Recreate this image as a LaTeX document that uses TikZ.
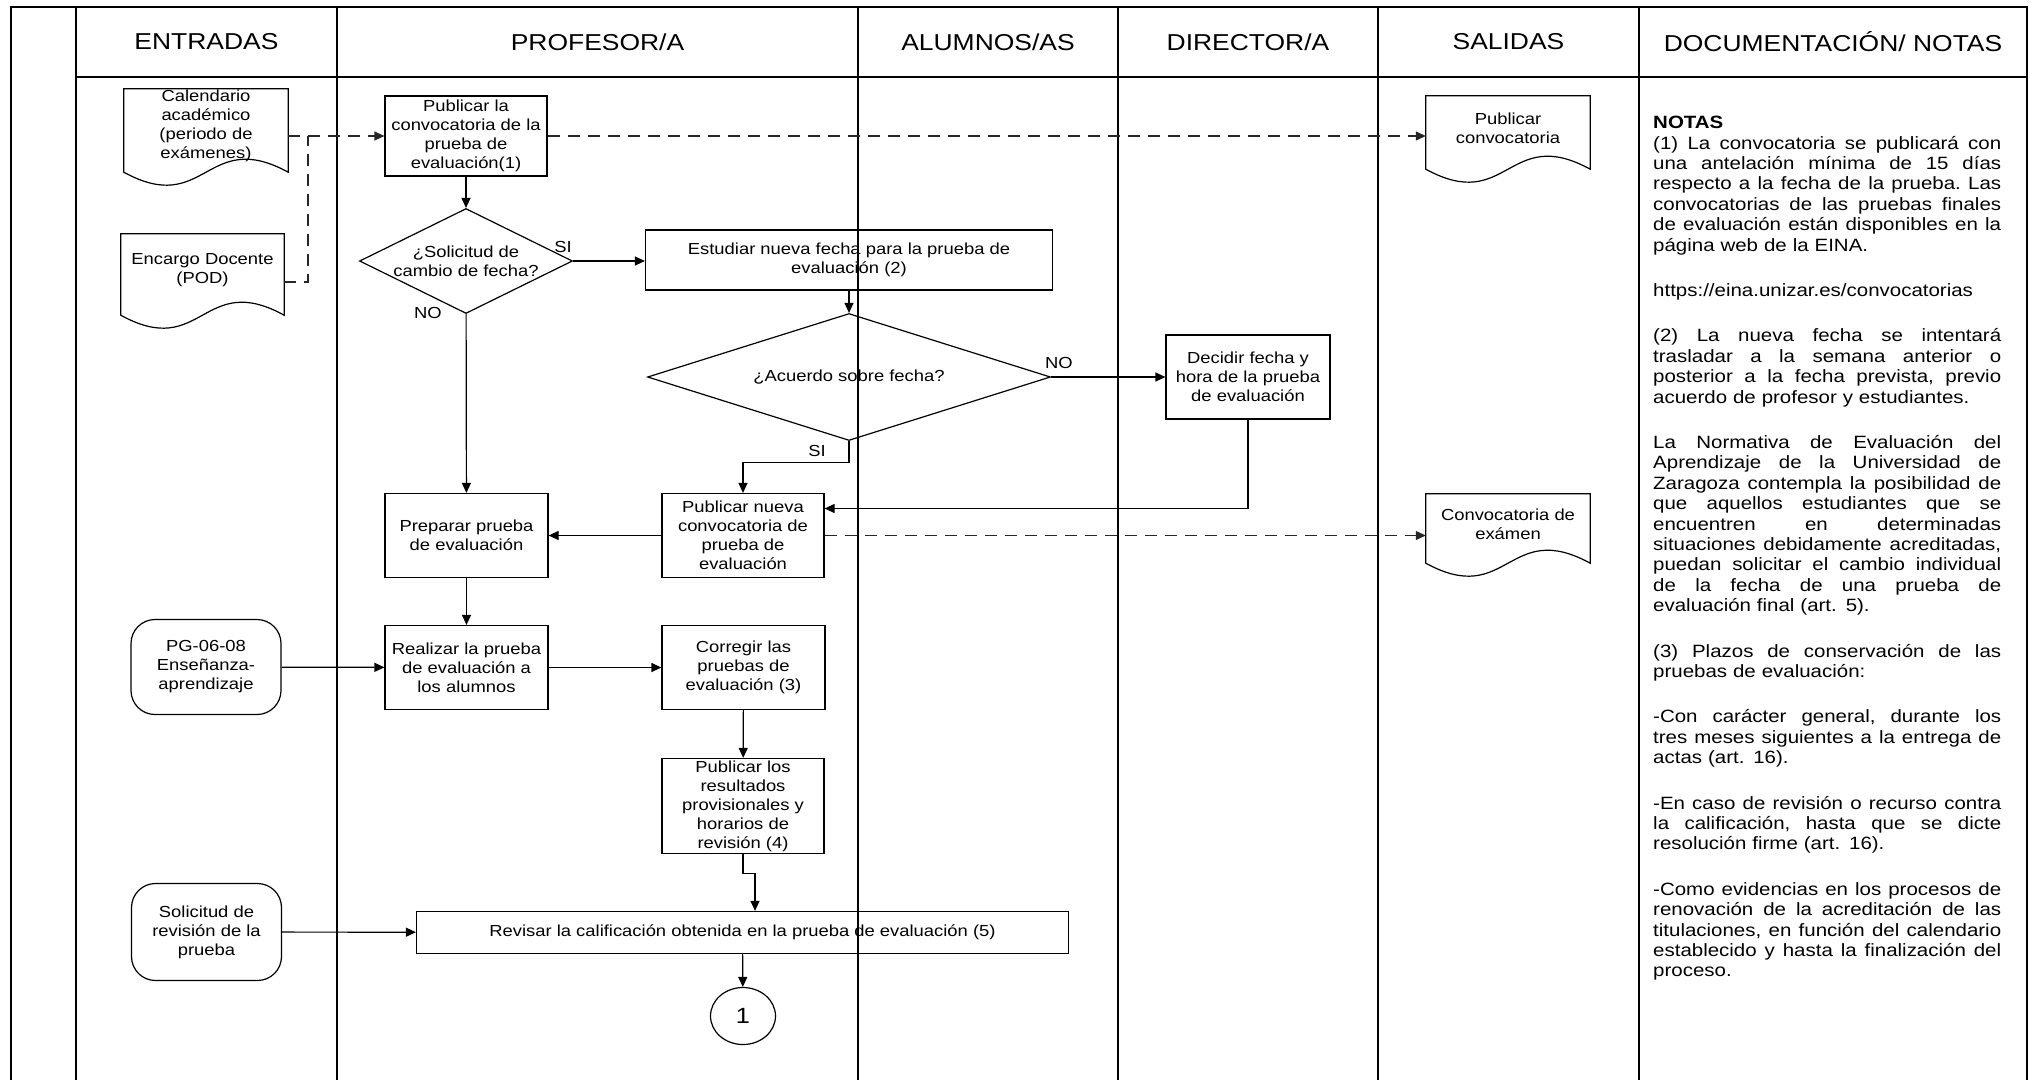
\documentclass[tikz,border=0pt]{standalone}
\usepackage{fontspec}
\setmainfont{Liberation Sans}[FakeStretch=1.15]
\usepackage{tikz}
\usetikzlibrary{arrows.meta,positioning,calc,shapes.geometric}
\newlength\notew
\setlength\notew{348pt}
\newcommand{\jline}[1]{\leavevmode\hbox to\notew{\frenchspacing\spaceskip=\fontdimen2\font plus 1fil\relax #1}}
\newcommand{\docoutline}[1]{%
  \draw[docline] (#1.north west) -- (#1.north east) -- ([yshift=-9pt]#1.south east)
    .. controls ([yshift=36pt]#1.south) and ([yshift=-54pt]#1.south) .. ([yshift=-9pt]#1.south west) -- cycle;}
\tikzset{
  lane/.style={line width=1.8pt},
  head/.style={font=\fontsize{23}{27}\selectfont,inner sep=0pt},
  box/.style={draw,line width=1.2pt,align=center,font=\fontsize{16}{19}\selectfont,inner xsep=2pt,inner ysep=1pt},
  decision/.style={diamond,draw,line width=1.2pt,align=center,font=\fontsize{16}{19}\selectfont,inner sep=0pt},
  term/.style={draw,line width=1.2pt,rounded corners=24pt,align=center,font=\fontsize{16}{19}\selectfont,inner sep=1pt},
  doc/.style={align=center,font=\fontsize{16}{19}\selectfont,inner xsep=2pt,inner ysep=0pt},
  docline/.style={line width=1.2pt},
  connector/.style={ellipse,draw,line width=1.2pt,font=\fontsize{22}{26}\selectfont,inner sep=0pt},
  lbl/.style={font=\fontsize{16}{19}\selectfont,inner sep=0pt},
  notes/.style={text width=348pt,align=left,inner sep=0pt,font=\fontsize{17.8}{20.4}\selectfont},
  arr/.style={-{Triangle[length=10pt,width=9pt]},line width=1.2pt},
  dasharr/.style={-{Triangle[length=10pt,width=9pt]},line width=1.2pt,draw=black!85,dash pattern=on 12pt off 8pt},
  dashline/.style={line width=1.2pt,draw=black!85,dash pattern=on 12pt off 8pt}
}

\begin{document}
\begin{tikzpicture}[x=1pt,y=-1pt]
  \useasboundingbox (0,0) rectangle (2031,1080);
  % swimlanes
  \draw[lane] (11,1080) -- (11,7) -- (2027,7) -- (2027,1080);
  \draw[lane] (76,77) -- (2027,77);
  \draw[lane] (76,7) -- (76,1080);
  \draw[lane] (337,7) -- (337,1080);
  \draw[lane] (858,7) -- (858,1080);
  \draw[lane] (1118,7) -- (1118,1080);
  \draw[lane] (1378,7) -- (1378,1080);
  \draw[lane] (1639,7) -- (1639,1080);
  \node[head] (hin) at (206.5,42) {ENTRADAS};
  \node[head] (hprof) at (597.5,42) {PROFESOR/A};
  \node[head] (halu) at (988,42) {ALUMNOS/AS};
  \node[head] (hdir) at (1248,42) {DIRECTOR/A};
  \node[head] (hout) at (1508.5,42) {SALIDAS};
  \node[head] (hdoc) at (1833,42) {DOCUMENTACIÓN/ NOTAS};

  % entradas
  \node[doc,minimum width=164pt,minimum height=74pt] (cal) at (206,126) {Calendario\\académico\\(periodo de\\exámenes)};
  \docoutline{cal}
  \node[doc,minimum width=163pt,minimum height=72pt] (pod) at (202.5,270) {Encargo Docente\\(POD)};
  \docoutline{pod}
  \node[term,minimum width=150pt,minimum height=95pt] (pg) at (206,667) {PG-06-08\\Enseñanza-\\aprendizaje};
  \node[term,minimum width=150pt,minimum height=97pt] (sol) at (206.5,932) {Solicitud de\\revisión de la\\prueba};

  % profesor
  \node[box,minimum width=162pt,minimum height=80pt] (pub1) at (466,136) {Publicar la\\convocatoria de la\\prueba de\\evaluación(1)};
  \node[decision,minimum width=213pt,minimum height=105pt,aspect=2.03] (dec1) at (466,261) {¿Solicitud de\\cambio de fecha?};
  \node[box,minimum width=407pt,minimum height=60pt] (est) at (849,260) {Estudiar nueva fecha para la prueba de\\evaluación (2)};
  \node[decision,minimum width=403pt,minimum height=127pt,aspect=3.2] (dec2) at (849,377) {¿Acuerdo sobre fecha?};
  \node[box,minimum width=163pt,minimum height=84pt] (prep) at (466.5,535.5) {Preparar prueba\\de evaluación};
  \node[box,minimum width=162pt,minimum height=84pt] (pub2) at (743,535.5) {Publicar nueva\\convocatoria de\\prueba de\\evaluación};
  \node[box,minimum width=163pt,minimum height=84pt] (real) at (466.5,667.5) {Realizar la prueba\\de evaluación a\\los alumnos};
  \node[box,minimum width=163pt,minimum height=84pt] (corr) at (743.5,667.5) {Corregir las\\pruebas de\\evaluación (3)};
  \node[box,minimum width=162pt,minimum height=95pt] (res) at (743,806) {Publicar los\\resultados\\provisionales y\\horarios de\\revisión (4)};
  \node[box,minimum width=652pt,minimum height=42pt] (rev) at (742.5,932.5) {Revisar la calificación obtenida en la prueba de evaluación (5)};
  \node[connector,minimum width=65pt,minimum height=57pt] (conn) at (743,1016) {1};

  % director
  \node[box,minimum width=164pt,minimum height=84pt] (dec) at (1248,377) {Decidir fecha y\\hora de la prueba\\de evaluación};

  % salidas
  \node[doc,minimum width=164pt,minimum height=64pt] (pubc) at (1508,128) {Publicar\\convocatoria};
  \docoutline{pubc}
  \node[doc,minimum width=164pt,minimum height=60pt] (exa) at (1508,524) {Convocatoria de\\exámen};
  \docoutline{exa}

  % labels
  \node[lbl] (si1) at (563,247) {SI};
  \node[lbl] (no1) at (428,313) {NO};
  \node[lbl] (no2) at (1059,363) {NO};
  \node[lbl] (si2) at (817,451) {SI};

  % connectors
  \coordinate (j1) at (308,136);
  \draw[dasharr] (cal.east |- pub1.west) -- (pub1.west);
  \draw[dashline] ([yshift=-12pt]pod.east) -| (j1);
  \draw[dasharr] (pub1.east) -- (pub1.east -| pubc.west);
  \draw[arr] (pub1) -- (dec1);
  \draw[arr] (dec1.east) -- (dec1.east -| est.west);
  \draw[arr] (dec1) -- (prep);
  \draw[arr] (est) -- (dec2);
  \draw[arr] (dec2) -- (dec);
  \draw[arr] (dec2.south) -- ++(0,21) -| (pub2.north);
  \draw[arr] (dec.south) |- ([yshift=27pt]pub2.east);
  \draw[dasharr] (pub2.east) -- (pub2.east -| exa.west);
  \draw[arr] (pub2) -- (prep);
  \draw[arr] (prep) -- (real);
  \draw[arr] (pg) -- (real);
  \draw[arr] (real) -- (corr);
  \draw[arr] (corr) -- (res);
  \draw[arr] (res.south) -- ++(0,19) -| ([xshift=12.5pt]rev.north);
  \draw[arr] (sol) -- (rev);
  \draw[arr] (rev) -- (conn);

  % notas
  \node[notes,anchor=north west] (notas) at (1653,116) {\textbf{NOTAS}\\
    \jline{(1) La convocatoria se publicará con}\\
    \jline{una antelación mínima de 15 días}\\
    \jline{respecto a la fecha de la prueba. Las}\\
    \jline{convocatorias de las pruebas finales}\\
    \jline{de evaluación están disponibles en la}\\
    página web de la EINA.\\[25pt]
    https://eina.unizar.es/convocatorias\\[25pt]
    \jline{(2) La nueva fecha se intentará}\\
    \jline{trasladar a la semana anterior o}\\
    \jline{posterior a la fecha prevista, previo}\\
    acuerdo de profesor y estudiantes.\\[25pt]
    \jline{La Normativa de Evaluación del}\\
    \jline{Aprendizaje de la Universidad de}\\
    \jline{Zaragoza contempla la posibilidad de}\\
    \jline{que aquellos estudiantes que se}\\
    \jline{encuentren en determinadas}\\
    \jline{situaciones debidamente acreditadas,}\\
    \jline{puedan solicitar el cambio individual}\\
    \jline{de la fecha de una prueba de}\\
    evaluación final (art. 5).\\[25pt]
    \jline{(3) Plazos de conservación de las}\\
    pruebas de evaluación:\\[25pt]
    \jline{-Con carácter general, durante los}\\
    \jline{tres meses siguientes a la entrega de}\\
    actas (art. 16).\\[25pt]
    \jline{-En caso de revisión o recurso contra}\\
    \jline{la calificación, hasta que se dicte}\\
    resolución firme (art. 16).\\[25pt]
    \jline{-Como evidencias en los procesos de}\\
    \jline{renovación de la acreditación de las}\\
    \jline{titulaciones, en función del calendario}\\
    \jline{establecido y hasta la finalización del}\\
    proceso.};
\end{tikzpicture}
\end{document}
